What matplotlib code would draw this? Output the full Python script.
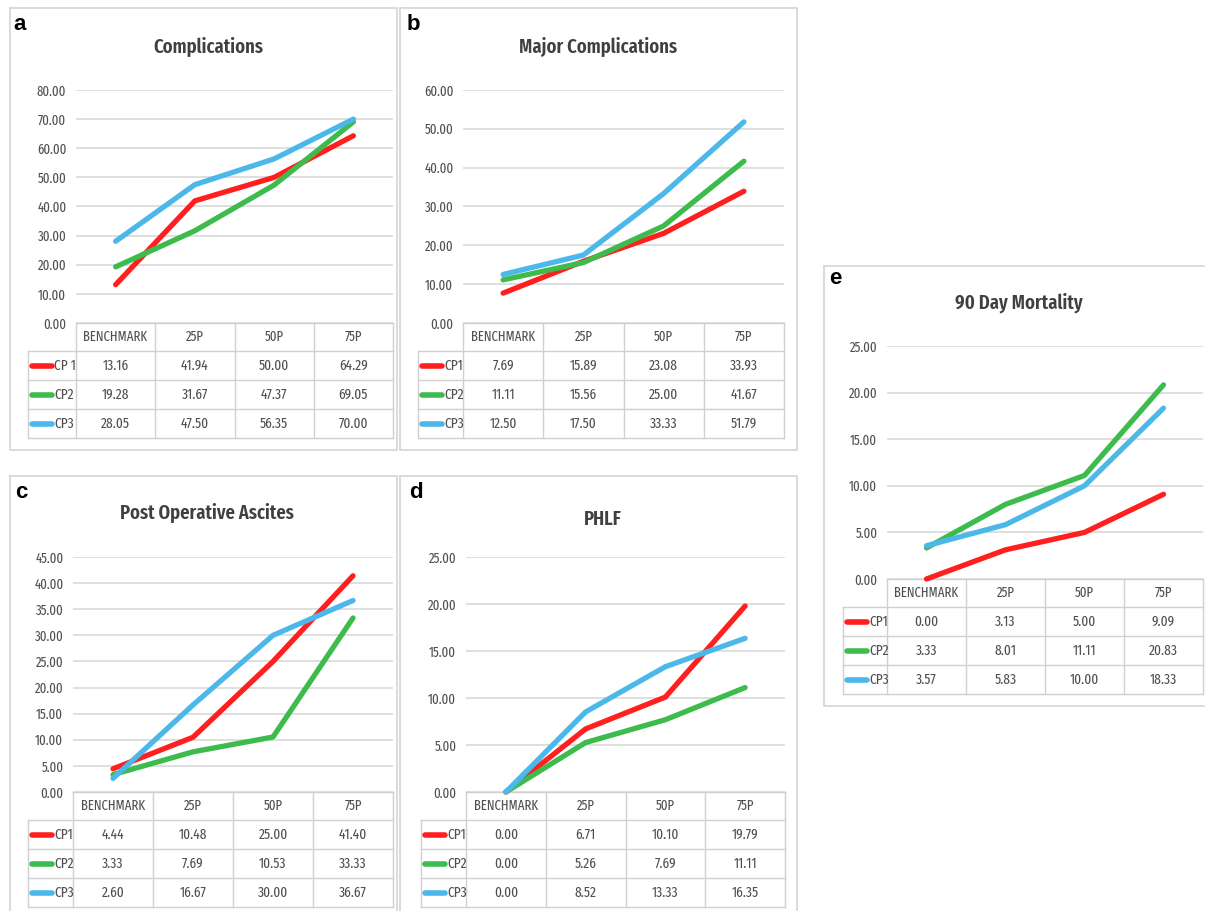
"""
Five outcome panels (Excel style line charts with data tables).
"""

import matplotlib
matplotlib.use("Agg")
import matplotlib.pyplot as plt
import numpy as np

W, H = 1205, 911

categories = ["BENCHMARK", "25P", "50P", "75P"]

colors = ["#ff1f1f", "#3dbb4c", "#4cb8ea"]

comp_cp1 = [13.16, 41.94, 50.00, 64.29]
comp_cp2 = [19.28, 31.67, 47.37, 69.05]
comp_cp3 = [28.05, 47.50, 56.35, 70.00]

major_cp1 = [7.69, 15.89, 23.08, 33.93]
major_cp2 = [11.11, 15.56, 25.00, 41.67]
major_cp3 = [12.50, 17.50, 33.33, 51.79]

ascites_cp1 = [4.44, 10.48, 25.00, 41.40]
ascites_cp2 = [3.33, 7.69, 10.53, 33.33]
ascites_cp3 = [2.60, 16.67, 30.00, 36.67]

phlf_cp1 = [0.00, 6.71, 10.10, 19.79]
phlf_cp2 = [0.00, 5.26, 7.69, 11.11]
phlf_cp3 = [0.00, 8.52, 13.33, 16.35]

mort_cp1 = [0.00, 3.13, 5.00, 9.09]
mort_cp2 = [3.33, 8.01, 11.11, 20.83]
mort_cp3 = [3.57, 5.83, 10.00, 18.33]

NARROW = ["Fira Sans Extra Condensed", "PT Sans Narrow", "DejaVu Sans"]
TXT = "#505050"
GRID = "#d9d9d9"


def fig_rect(left, top, right, bottom):
    return [left / W, 1 - bottom / H, (right - left) / W, (bottom - top) / H]


def draw_panel(fig, canvas, label, title, series, labels, ymax, step,
               box, grid, leg_left, title_xy, label_xy):
    gl, gt, gr, gb = grid

    # panel border
    bl, bt, br, bb = box
    canvas.plot([bl, br, br, bl, bl], [bt, bt, bb, bb, bt],
                color="#d4d4d4", lw=1.2)

    canvas.text(label_xy[0], label_xy[1], label, fontsize=16,
                fontweight="bold", family="Liberation Sans",
                ha="center", va="center", color="black")
    canvas.text(title_xy[0], title_xy[1], title, fontsize=14.5,
                fontweight="semibold", family=NARROW,
                ha="center", va="center", color="#404040")

    ax = fig.add_axes(fig_rect(gl, gt, gr, gb))
    ax.patch.set_alpha(0)
    for s in ax.spines.values():
        s.set_visible(False)
    ax.set_xlim(-0.5, len(categories) - 0.5)
    ax.set_ylim(0, ymax)
    ticks = np.arange(0, ymax + step / 2, step)
    ax.set_yticks(ticks)
    ax.set_yticklabels(["%.2f" % t for t in ticks], family=NARROW,
                       fontsize=10, color=TXT)
    ax.tick_params(axis="y", length=0, pad=7)
    ax.set_xticks([])
    ax.yaxis.grid(True, color=GRID, lw=1.2)
    ax.set_axisbelow(True)
    x = np.arange(len(categories))
    for vals, c in zip(series, colors):
        ax.plot(x, vals, color=c, lw=3.8, solid_capstyle="round",
                solid_joinstyle="round", clip_on=False, zorder=3)

    # data table
    hdr = 28
    row = 29
    ncol = len(categories)
    cw = (gr - gl) / ncol
    top = gb
    hb = top + hdr
    bottom = hb + row * len(series)
    lc = "#d0d0d0"
    canvas.plot([gl, gr], [top, top], color=lc, lw=1)
    for i in range(len(series) + 1):
        y = hb + row * i
        canvas.plot([leg_left, gr], [y, y], color=lc, lw=1)
    canvas.plot([leg_left, leg_left], [hb, bottom], color=lc, lw=1)
    for j in range(ncol + 1):
        xx = gl + cw * j
        canvas.plot([xx, xx], [top, bottom], color=lc, lw=1)
    for j, cat in enumerate(categories):
        canvas.text(gl + cw * (j + 0.5), top + hdr / 2, cat, family=NARROW,
                    fontsize=10, color=TXT, ha="center", va="center")
    for i, (vals, c, name) in enumerate(zip(series, colors, labels)):
        yc = hb + row * (i + 0.5)
        canvas.plot([leg_left + 4, leg_left + 24], [yc, yc], color=c,
                    lw=4, solid_capstyle="round")
        canvas.text(leg_left + 26, yc, name, family=NARROW, fontsize=10.5,
                    color=TXT, ha="left", va="center")
        for j, v in enumerate(vals):
            canvas.text(gl + cw * (j + 0.5), yc, "%.2f" % v, family=NARROW,
                        fontsize=10.5, color=TXT, ha="center", va="center")


fig = plt.figure(figsize=(W / 100, H / 100), dpi=100)
canvas = fig.add_axes([0, 0, 1, 1])
canvas.set_xlim(0, W)
canvas.set_ylim(H, 0)
canvas.axis("off")

draw_panel(fig, canvas, "a", "Complications",
           [comp_cp1, comp_cp2, comp_cp3], ["CP 1", "CP2", "CP3"], 80, 10,
           (10, 8, 397, 450), (76, 90, 393, 323), 28, (208, 47), (20, 25))
draw_panel(fig, canvas, "b", "Major Complications",
           [major_cp1, major_cp2, major_cp3], ["CP1", "CP2", "CP3"], 60, 10,
           (400, 8, 797, 450), (463, 90, 784, 323), 418, (598, 47), (413, 25))
draw_panel(fig, canvas, "c", "Post Operative Ascites",
           [ascites_cp1, ascites_cp2, ascites_cp3], ["CP1", "CP2", "CP3"], 45, 5,
           (10, 476, 397, 912), (73, 557, 393, 792), 28, (207, 513), (21, 493))
draw_panel(fig, canvas, "d", "PHLF",
           [phlf_cp1, phlf_cp2, phlf_cp3], ["CP1", "CP2", "CP3"], 25, 5,
           (400, 476, 797, 912), (466, 557, 785, 792), 421, (603, 519), (416, 492))
draw_panel(fig, canvas, "e", "90 Day Mortality",
           [mort_cp1, mort_cp2, mort_cp3], ["CP1", "CP2", "CP3"], 25, 5,
           (824, 266, 1206, 706), (887, 346, 1203, 579), 843, (1019, 303), (835, 278))

fig.savefig("out.png", dpi=100)
